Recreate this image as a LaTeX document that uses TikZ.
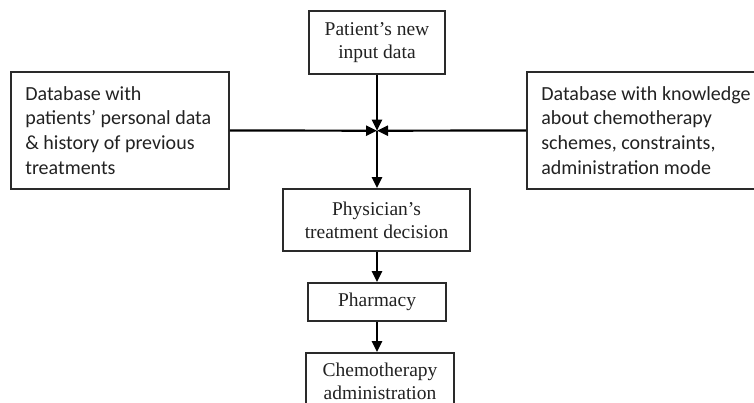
\documentclass[tikz,border=0pt]{standalone}
\usepackage{fontspec}
\setmainfont{Liberation Serif}
\newfontfamily\calfont{Carlito}
\usetikzlibrary{arrows.meta}
\definecolor{boxline}{HTML}{2A2A2A}
\definecolor{txt}{HTML}{222222}
\tikzset{
  flowbox/.style={draw=boxline, line width=1.8pt, fill=white, inner sep=0pt, align=center,
    text=txt, font=\fontsize{19.5}{23}\selectfont},
  sidebox/.style={draw=boxline, line width=1.8pt, fill=white, inner sep=0pt},
  sidetext/.style={anchor=west, align=left, inner sep=0pt, text=txt,
    font=\calfont\fontsize{20}{24.8}\selectfont},
  conn/.style={draw=black, line width=2.2pt, -{Triangle[length=11pt,width=10pt]}},
  plain/.style={draw=black, line width=2.2pt}
}
\begin{document}
\begin{tikzpicture}[x=1pt,y=-1pt]
\useasboundingbox (0,0) rectangle (754,403);
% boxes
\node[flowbox, minimum width=136pt, minimum height=63pt] (input) at (377,42.8) {Patient’s new\\input data};
\node[sidebox, minimum width=218pt, minimum height=117pt] (db1) at (120,130.5) {};
\node[sidetext] (db1t) at ([xshift=15pt]db1.west) {Database with\\patients’ personal data\\\& history of previous\\treatments};
\node[sidebox, minimum width=236pt, minimum height=117pt] (db2) at (645,130.5) {};
\node[sidetext] (db2t) at ([xshift=15pt]db2.west) {Database with knowledge\\about chemotherapy\\schemes, constraints,\\administration mode};
\node[flowbox, minimum width=187pt, minimum height=62pt] (phys) at (376.5,220) {Physician’s\\treatment decision};
\node[flowbox, minimum width=138pt, minimum height=38pt] (pharm) at (377,302) {Pharmacy};
\node[flowbox, minimum width=148pt, minimum height=57pt] (chemo) at (380,381.5) {Chemotherapy\\administration};
% junction
\coordinate (J) at (377,130.7);
\draw[conn] (input.south) -- (J);
\draw[conn] (db1.east) -- (J);
\draw[conn] (db2.west) -- (J);
\draw[conn] (J) -- (J |- phys.north);
\draw[conn] (pharm.north |- phys.south) -- (pharm.north);
\draw[conn] (pharm.south) -- (pharm.south |- chemo.north);
\end{tikzpicture}
\end{document}
